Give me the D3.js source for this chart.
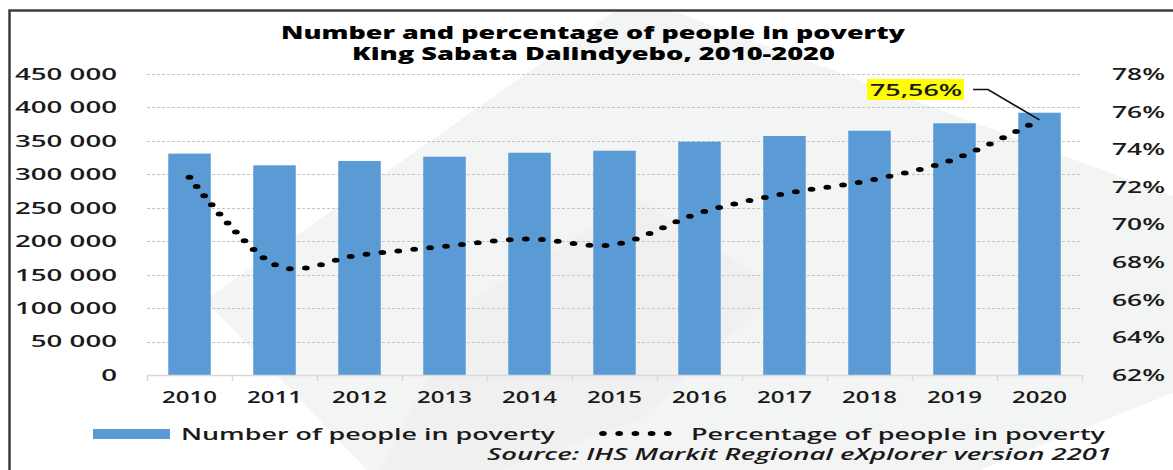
<!DOCTYPE html>
<html>
<head>
<meta charset="utf-8">
<script src="https://cdn.jsdelivr.net/npm/d3@7"></script>
<style>
  html, body { margin: 0; padding: 0; background: #ffffff; }
  svg { display: block; }
  text { font-family: "Open Sans", "Noto Sans", sans-serif; fill: #1a1a1a; font-weight: 600; }
</style>
</head>
<body>
<svg id="chart" width="1173" height="470"></svg>
<script>
// Poverty in King Sabata Dalindyebo, 2010-2020
const years = [2010, 2011, 2012, 2013, 2014, 2015, 2016, 2017, 2018, 2019, 2020];
const poorCount = [331000, 313500, 320000, 326400, 332300, 335300, 348800, 357300, 365200, 376300, 392100];
const poorPct = [72.51, 67.87, 68.38, 68.84, 69.23, 68.93, 70.61, 71.64, 72.34, 73.48, 75.56];
const countTicks = [0, 50000, 100000, 150000, 200000, 250000, 300000, 350000, 400000, 450000];
const pctTicks = [62, 64, 66, 68, 70, 72, 74, 76, 78];

const titleLines = ["Number and percentage of people in poverty", "King Sabata Dalindyebo, 2010-2020"];
const legendLabels = ["Number of people in poverty", "Percentage of people in poverty"];
const sourceNote = "Source: IHS Markit Regional eXplorer version 2201";

const W = 1173, H = 470;
const plot = { left: 147, right: 1082, top: 74, bottom: 375 };
const barColor = "#5b9bd5";
const stretch = 1.55; // horizontal stretch of the line markers

const svg = d3.select("#chart");

// background watermark
const defs = svg.append("defs");
defs.append("clipPath").attr("id", "frameClip")
  .append("rect").attr("x", 11).attr("y", 12).attr("width", W - 11).attr("height", H - 12);
const wm = svg.append("g").attr("clip-path", "url(#frameClip)");
wm.append("polygon")
  .attr("points", [[635, -3], [1173, 196], [1173, 393], [980, 470], [367, 470], [205, 300]].map(p => p.join(",")).join(" "))
  .attr("fill", "#f3f4f4");
wm.append("polygon")
  .attr("points", [[470, 300], [640, 200], [780, 290], [640, 420], [500, 470], [380, 470]].map(p => p.join(",")).join(" "))
  .attr("fill", "#f0f0f0");

// frame
svg.append("path")
  .attr("d", `M9.5,${H} V10.5 H${W}`)
  .attr("fill", "none").attr("stroke", "#3c3c3c").attr("stroke-width", 2.5);

// scales
const x = d3.scaleBand().domain(years).range([plot.left, plot.right]).paddingInner(0.5).paddingOuter(0.25);
const yCount = d3.scaleLinear().domain([0, 450000]).range([plot.bottom, plot.top]);
const yPct = d3.scaleLinear().domain([62, 78]).range([plot.bottom, plot.top]);

// stretch a text horizontally around its anchor x
function stretchAround(sel, s) {
  sel.each(function () {
    const t = d3.select(this);
    const ax = +t.attr("x") || 0;
    t.attr("transform", `translate(${ax},0) scale(${s},1) translate(${-ax},0)`);
  });
}

// gridlines
svg.append("g").selectAll("line")
  .data(countTicks.filter(d => d > 0))
  .join("line")
  .attr("x1", plot.left).attr("x2", plot.right)
  .attr("y1", d => Math.round(yCount(d)) + 0.5).attr("y2", d => Math.round(yCount(d)) + 0.5)
  .attr("stroke", "#c4c4c4").attr("stroke-width", 1).attr("stroke-dasharray", "3 2");

// bars
svg.append("g").selectAll("rect")
  .data(years.map((y, i) => ({ year: y, v: poorCount[i] })))
  .join("rect")
  .attr("x", d => x(d.year))
  .attr("width", x.bandwidth())
  .attr("y", d => yCount(d.v))
  .attr("height", d => yCount(0) - yCount(d.v))
  .attr("fill", barColor);

// category axis line and boundary ticks
const bx = svg.append("g");
bx.append("line")
  .attr("x1", plot.left).attr("x2", plot.right)
  .attr("y1", plot.bottom + 0.5).attr("y2", plot.bottom + 0.5)
  .attr("stroke", "#d9d9d9").attr("stroke-width", 1.5);
bx.selectAll("line.tick")
  .data(d3.range(years.length + 1))
  .join("line").attr("class", "tick")
  .attr("x1", i => Math.round(plot.left + i * x.step()) + 0.5)
  .attr("x2", i => Math.round(plot.left + i * x.step()) + 0.5)
  .attr("y1", plot.bottom).attr("y2", plot.bottom + 6)
  .attr("stroke", "#d9d9d9").attr("stroke-width", 1.5);

// bottom axis labels
const xAxis = svg.append("g").attr("transform", `translate(0,${plot.bottom})`)
  .call(d3.axisBottom(x).tickSize(0).tickFormat(d => String(d)));
xAxis.select(".domain").remove();
xAxis.selectAll("text")
  .attr("y", 28).attr("dy", 0)
  .style("font-size", "17px").style("fill", "#1a1a1a");
{
  const w = xAxis.select("text").node().getComputedTextLength();
  stretchAround(xAxis.selectAll("text"), 55 / w);
}

// left axis
const yAxisL = svg.append("g").attr("transform", `translate(${plot.left},0)`)
  .call(d3.axisLeft(yCount).tickValues(countTicks).tickSize(0).tickPadding(30)
    .tickFormat(d => d3.format(",")(d).replace(/,/g, " ")));
yAxisL.select(".domain").remove();
yAxisL.selectAll("text").style("font-size", "17px").style("fill", "#1a1a1a");
{
  const w = yAxisL.selectAll("text").filter(d => d === 450000).node().getComputedTextLength();
  stretchAround(yAxisL.selectAll("text"), 102 / w);
}

// right axis
const yAxisR = svg.append("g").attr("transform", `translate(${plot.right},0)`)
  .call(d3.axisRight(yPct).tickValues(pctTicks).tickSize(0).tickPadding(30).tickFormat(d => d + "%"));
yAxisR.select(".domain").remove();
yAxisR.selectAll("text").style("font-size", "17px").style("fill", "#1a1a1a");
{
  const w = yAxisR.select("text").node().getComputedTextLength();
  stretchAround(yAxisR.selectAll("text"), 53 / w);
}

// percentage line (round dots, horizontally stretched)
const dotted = svg.append("g").attr("transform", `scale(${stretch},1)`);
const line = d3.line()
  .x(d => (x(d.year) + x.bandwidth() / 2) / stretch)
  .y(d => yPct(d.v))
  .curve(d3.curveCardinal.tension(0));
const pctData = years.map((y, i) => ({ year: y, v: poorPct[i] }));
dotted.append("path")
  .datum(pctData)
  .attr("d", line)
  .attr("fill", "none")
  .attr("stroke", "#000")
  .attr("stroke-width", 5)
  .attr("stroke-linecap", "round")
  .attr("stroke-dasharray", "0 10.4");

// value callout for the last year
const last = pctData[pctData.length - 1];
const lx = x(last.year) + x.bandwidth() / 2, ly = yPct(last.v);
svg.append("path")
  .attr("d", `M973,89.5 H988 L${lx},${ly}`)
  .attr("fill", "none").attr("stroke", "#111").attr("stroke-width", 1.6);
svg.append("rect")
  .attr("x", 867).attr("y", 79).attr("width", 97).attr("height", 21)
  .attr("fill", "#ffff00");
svg.append("text")
  .attr("x", 870).attr("y", 96)
  .attr("textLength", 92).attr("lengthAdjust", "spacingAndGlyphs")
  .style("font-size", "17px")
  .text(d3.format(".2f")(last.v).replace(".", ",") + "%");

// title
svg.append("text").attr("x", 281).attr("y", 39)
  .attr("textLength", 624).attr("lengthAdjust", "spacingAndGlyphs")
  .style("font-size", "17px").style("font-weight", 800).style("fill", "#000")
  .text(titleLines[0]);
svg.append("text").attr("x", 352).attr("y", 60)
  .attr("textLength", 483).attr("lengthAdjust", "spacingAndGlyphs")
  .style("font-size", "17px").style("font-weight", 800).style("fill", "#000")
  .text(titleLines[1]);

// legend
svg.append("rect").attr("x", 93).attr("y", 429).attr("width", 77).attr("height", 10).attr("fill", barColor);
svg.append("text").attr("x", 181).attr("y", 440)
  .attr("textLength", 374).attr("lengthAdjust", "spacingAndGlyphs")
  .style("font-size", "17px").text(legendLabels[0]);
dotted.append("path")
  .attr("d", `M${603 / stretch},433.5 H${684 / stretch}`)
  .attr("fill", "none").attr("stroke", "#000")
  .attr("stroke-width", 5).attr("stroke-linecap", "round")
  .attr("stroke-dasharray", `0 ${81 / stretch / 5}`);
svg.append("text").attr("x", 691).attr("y", 440)
  .attr("textLength", 414).attr("lengthAdjust", "spacingAndGlyphs")
  .style("font-size", "17px").text(legendLabels[1]);

// source note
svg.append("text").attr("x", 487).attr("y", 460)
  .attr("textLength", 625).attr("lengthAdjust", "spacingAndGlyphs")
  .style("font-size", "15.5px").style("font-style", "italic").text(sourceNote);
</script>
</body>
</html>
